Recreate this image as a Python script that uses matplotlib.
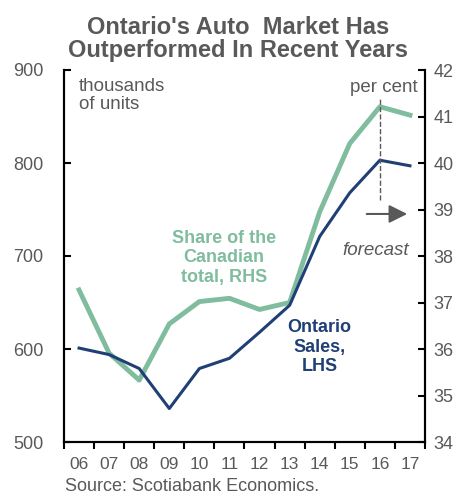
import matplotlib
matplotlib.use('Agg')
import numpy as np
import matplotlib.pyplot as plt

plt.rcParams['font.family'] = ['Liberation Sans', 'DejaVu Sans']

years = ['06', '07', '08', '09', '10', '11', '12', '13', '14', '15', '16', '17']
ontario_sales = [601, 594, 579, 536, 579, 590, 618, 647, 721, 768, 803, 797]
canada_share = [37.27, 35.91, 35.33, 36.54, 37.02, 37.09, 36.85, 37.0,
                38.95, 40.42, 41.21, 41.03]
left_ticks = [500, 600, 700, 800, 900]
right_ticks = [34, 35, 36, 37, 38, 39, 40, 41, 42]

GREEN = '#80BC9E'
NAVY = '#1F3F75'
GREY = '#595959'

fig = plt.figure(figsize=(4.76, 4.94), dpi=100)
ax1 = fig.add_axes([64 / 476, 52 / 494, 361 / 476, 372 / 494])
ax2 = ax1.twinx()

x = np.arange(len(years))
ax1.plot(x, ontario_sales, color=NAVY, lw=2.2, zorder=3)
ax2.plot(x, canada_share, color=GREEN, lw=3.5, zorder=2)
ax1.set_zorder(2)
ax1.patch.set_visible(False)

ax1.set_xlim(-0.5, len(years) - 0.5)
ax1.set_ylim(500, 900)
ax2.set_ylim(34, 42)
ax1.set_yticks(left_ticks)
ax2.set_yticks(right_ticks)
ax1.set_xticks(x)
ax1.set_xticklabels(years)
ax1.set_xticks(np.arange(-0.5, len(years)), minor=True)

for ax in (ax1, ax2):
    ax.spines['top'].set_visible(False)
    for s in ('left', 'right', 'bottom'):
        ax.spines[s].set_linewidth(1.5)
ax1.tick_params(axis='y', direction='in', length=5, width=1.5,
                labelsize=13, labelcolor=GREY, pad=15)
ax2.tick_params(axis='y', direction='in', length=5, width=1.5,
                labelsize=13, labelcolor=GREY, pad=6)
ax1.tick_params(axis='x', which='major', length=0, labelsize=12.5,
                labelcolor=GREY, pad=11)
ax1.tick_params(axis='x', which='minor', direction='out', length=5,
                width=1.5)

trans = ax1.get_xaxis_transform()

# forecast marker
ax1.plot([10, 10], [0.65, 0.927], transform=trans, color=GREY, ls='--',
         lw=1, zorder=4)
ax1.annotate('', xy=(11.0, 0.613), xytext=(9.47, 0.613),
             xycoords=trans,
             arrowprops=dict(arrowstyle='-|>,head_length=1.1,head_width=0.55',
                             color=GREY, lw=1.5))
ax1.text(10.98, 0.516, 'forecast', style='italic', color=GREY,
         fontsize=13.5, ha='right', va='center', transform=trans)

ax1.text(0.0, 0.978, 'thousands\nof units', color=GREY, fontsize=13.5,
         ha='left', va='top', linespacing=1.1, transform=trans)
ax1.text(11.27, 0.975, 'per cent', color=GREY, fontsize=13.5,
         ha='right', va='top', transform=trans)

ax1.text(4.82, 0.495, 'Share of the\nCanadian\ntotal, RHS', color=GREEN,
         fontsize=13, fontweight='bold', ha='center', va='center',
         linespacing=1.2, transform=trans)
ax1.text(8.0, 0.255, 'Ontario\nSales,\nLHS', color=NAVY,
         fontsize=13, fontweight='bold', ha='center', va='center',
         linespacing=1.2, transform=trans)

fig.text(0.5, 0.967, "Ontario's Auto  Market Has\nOutperformed In Recent Years",
         ha='center', va='top', fontsize=17, fontweight='bold', color=GREY,
         linespacing=1.0)
fig.text(65 / 476, 8 / 494, 'Source: Scotiabank Economics.', color=GREY,
         fontsize=13, ha='left', va='center')

fig.savefig('out.png', dpi=100)
